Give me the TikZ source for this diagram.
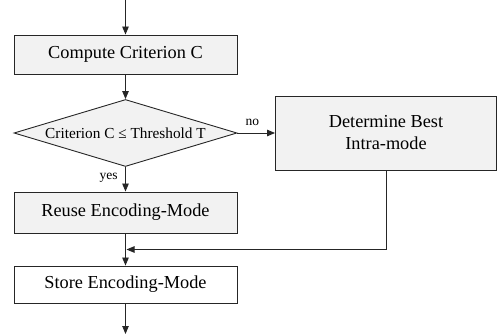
\documentclass[tikz,border=0pt]{standalone}
\usepackage{fontspec}
\setmainfont{Liberation Serif}
\usetikzlibrary{shapes.geometric,arrows.meta,calc}

\tikzset{
  flowbox/.style={draw=black!85, fill=black!5, line width=0.9pt, inner sep=0pt,
    font=\fontsize{18.3}{22}\selectfont},
  flowarrow/.style={draw=black!85, line width=0.9pt, -{Triangle[width=6.5pt,length=8pt]}},
  smalllabel/.style={font=\fontsize{13.5}{16}\selectfont}
}

\begin{document}
\begin{tikzpicture}[x=1pt,y=-1pt]
  \useasboundingbox (0,0) rectangle (497,336);
  % steps
  \node[flowbox, minimum width=223pt, minimum height=39pt] (compute) at (125.5,54.5) {Compute Criterion C};
  \node[flowbox, diamond, aspect=3.33, minimum width=223pt, minimum height=67pt,
        font=\fontsize{15.3}{18}\selectfont] (test) at (125.5,133) {Criterion C ≤ Threshold T};
  \node[flowbox, minimum width=221pt, minimum height=74pt, align=center] (intra) at (386,133) {Determine Best\\Intra-mode};
  \node[flowbox, minimum width=223pt, minimum height=41pt] (reuse) at (125.5,212.5) {Reuse Encoding-Mode};
  \node[flowbox, fill=white, minimum width=223pt, minimum height=37pt] (store) at (125.5,284.5) {Store Encoding-Mode};
  \coordinate (start) at (125.5,0);
  \coordinate (finish) at (125.5,334);
  \coordinate (merge) at ($(reuse.south)!0.5!(store.north)$);
  % connectors
  \draw[flowarrow] (start) -- (compute.north);
  \draw[flowarrow] (compute.south) -- (test.north);
  \draw[flowarrow] (test.east) -- node[smalllabel, pos=0.4, above, yshift=4pt] {no} (intra.west);
  \draw[flowarrow] (test.south) -- node[smalllabel, pos=0.45, left, xshift=-4pt] {yes} (reuse.north);
  \draw[flowarrow] (reuse.south) -- (store.north);
  \draw[flowarrow] (intra.south) |- ([xshift=1pt]merge);
  \draw[flowarrow] (store.south) -- (finish);
\end{tikzpicture}
\end{document}
